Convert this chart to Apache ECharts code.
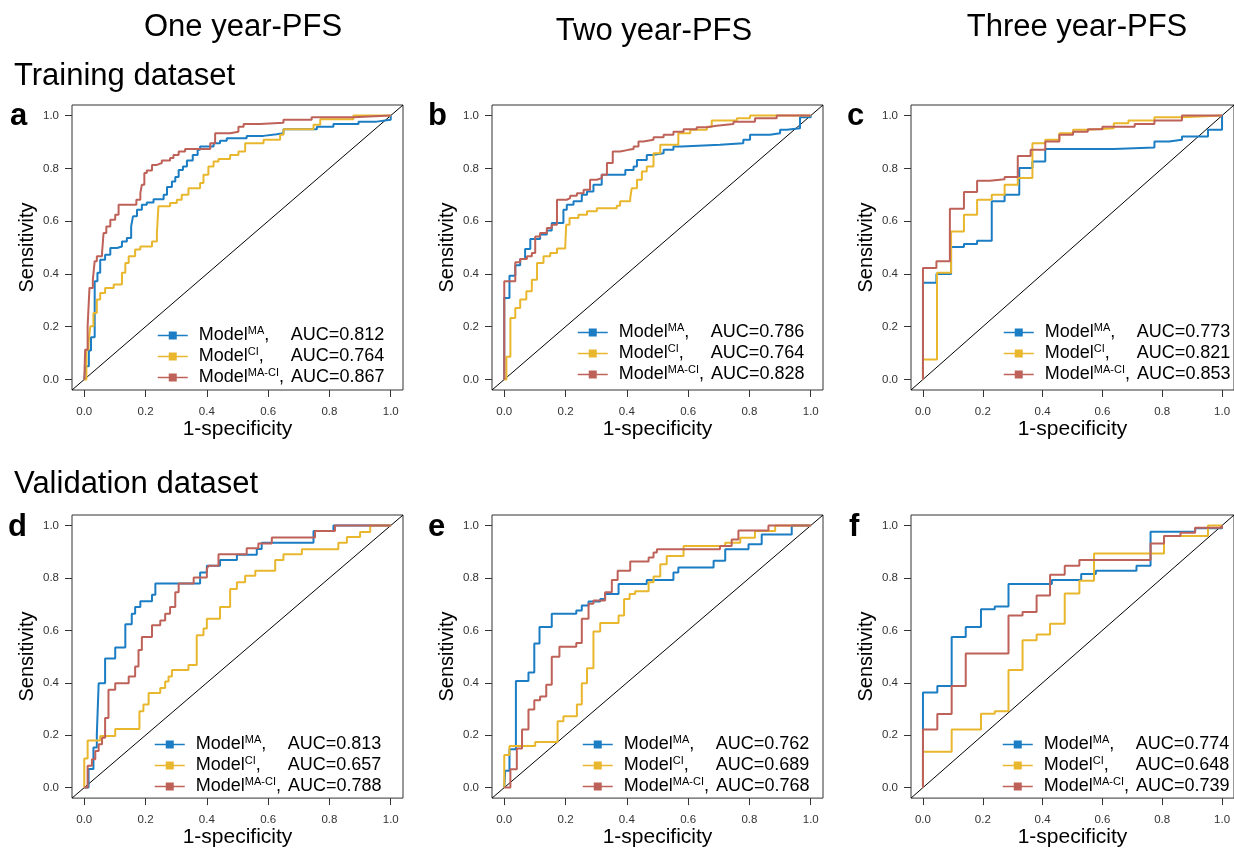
<!DOCTYPE html>
<html>
<head>
<meta charset="utf-8">
<script src="https://cdn.jsdelivr.net/npm/echarts@6/dist/echarts.min.js"></script>
<style>
html, body { margin: 0; padding: 0; background: #fff; }
#chart { width: 1234px; height: 849px; }
</style>
</head>
<body>
<div id="chart"></div>
<script>
// labels
var colTitles = ['One year-PFS', 'Two year-PFS', 'Three year-PFS'];
var rowTitles = ['Training dataset', 'Validation dataset'];
var panelLetters = ['a', 'b', 'c', 'd', 'e', 'f'];
var modelNames = ['MA', 'CI', 'MA-CI'];
var tickValues = [0, 0.2, 0.4, 0.6, 0.8, 1.0];

// AUC per panel, order MA, CI, MA-CI
var aucA = [0.812, 0.764, 0.867];
var aucB = [0.786, 0.764, 0.828];
var aucC = [0.773, 0.821, 0.853];
var aucD = [0.813, 0.657, 0.788];
var aucE = [0.762, 0.689, 0.768];
var aucF = [0.774, 0.648, 0.739];

// ROC points [1-specificity, sensitivity] (top of each rise)
var rocA_MA = [[0,0],[0.005,0.05],[0.015,0.11],[0.022,0.16],[0.034,0.372],[0.043,0.404],[0.052,0.454],[0.068,0.473],[0.085,0.498],[0.107,0.504],[0.123,0.523],[0.139,0.536],[0.153,0.580],[0.159,0.618],[0.172,0.643],[0.188,0.662],[0.204,0.671],[0.226,0.683],[0.259,0.700],[0.270,0.729],[0.286,0.750],[0.297,0.767],[0.308,0.794],[0.322,0.807],[0.335,0.830],[0.354,0.851],[0.370,0.870],[0.378,0.883],[0.422,0.895],[0.443,0.905],[0.465,0.914],[0.530,0.923],[0.585,0.929],[0.628,0.933],[0.650,0.948],[0.759,0.958],[0.813,0.968],[0.895,0.977],[0.954,0.984],[1,1]];
var rocA_CI = [[0,0],[0.007,0.113],[0.014,0.139],[0.020,0.202],[0.030,0.252],[0.041,0.303],[0.052,0.328],[0.068,0.347],[0.096,0.360],[0.123,0.404],[0.134,0.441],[0.145,0.467],[0.166,0.492],[0.183,0.504],[0.221,0.523],[0.237,0.555],[0.242,0.656],[0.280,0.669],[0.302,0.681],[0.318,0.700],[0.340,0.725],[0.378,0.744],[0.389,0.776],[0.405,0.807],[0.422,0.826],[0.438,0.835],[0.476,0.851],[0.503,0.864],[0.525,0.895],[0.585,0.908],[0.639,0.927],[0.650,0.948],[0.748,0.965],[0.770,0.986],[0.878,1.0],[1,1]];
var rocA_MACI = [[0,0],[0.003,0.113],[0.011,0.202],[0.017,0.347],[0.028,0.378],[0.034,0.448],[0.041,0.467],[0.058,0.479],[0.063,0.555],[0.072,0.580],[0.085,0.605],[0.101,0.624],[0.112,0.662],[0.170,0.681],[0.183,0.706],[0.188,0.738],[0.196,0.782],[0.204,0.792],[0.221,0.813],[0.237,0.820],[0.253,0.830],[0.280,0.839],[0.291,0.851],[0.308,0.864],[0.329,0.873],[0.411,0.895],[0.427,0.933],[0.476,0.939],[0.503,0.958],[0.520,0.968],[0.574,0.973],[0.650,0.984],[0.742,0.994],[0.878,1.0],[1,1]];

var rocB_MA = [[0,0],[0,0.309],[0.017,0.393],[0.036,0.433],[0.052,0.456],[0.068,0.494],[0.085,0.532],[0.117,0.549],[0.139,0.564],[0.155,0.593],[0.193,0.643],[0.204,0.662],[0.226,0.675],[0.253,0.700],[0.270,0.712],[0.291,0.738],[0.318,0.776],[0.395,0.794],[0.422,0.807],[0.433,0.832],[0.465,0.851],[0.487,0.857],[0.520,0.870],[0.552,0.883],[0.579,0.889],[0.704,0.895],[0.780,0.908],[0.802,0.927],[0.867,0.933],[0.900,0.946],[0.922,0.952],[0.965,0.994],[1,1]];
var rocB_CI = [[0,0],[0.007,0.086],[0.020,0.233],[0.036,0.271],[0.052,0.303],[0.072,0.334],[0.090,0.378],[0.107,0.441],[0.128,0.467],[0.150,0.479],[0.172,0.496],[0.199,0.504],[0.202,0.586],[0.213,0.612],[0.242,0.624],[0.270,0.637],[0.302,0.649],[0.367,0.658],[0.378,0.675],[0.411,0.687],[0.416,0.725],[0.433,0.757],[0.449,0.788],[0.465,0.807],[0.487,0.857],[0.509,0.889],[0.568,0.933],[0.607,0.946],[0.661,0.958],[0.677,0.981],[0.759,0.990],[0.802,1.0],[1,1]];
var rocB_MACI = [[0,0],[0,0.372],[0.036,0.444],[0.052,0.456],[0.074,0.467],[0.090,0.479],[0.101,0.542],[0.117,0.555],[0.139,0.574],[0.155,0.586],[0.172,0.681],[0.204,0.687],[0.215,0.696],[0.237,0.706],[0.259,0.719],[0.280,0.757],[0.302,0.763],[0.318,0.776],[0.335,0.820],[0.354,0.864],[0.378,0.870],[0.405,0.873],[0.422,0.883],[0.438,0.902],[0.454,0.908],[0.487,0.918],[0.520,0.927],[0.552,0.939],[0.585,0.948],[0.628,0.956],[0.661,0.961],[0.693,0.968],[0.748,0.977],[0.818,0.990],[0.889,1.0],[1,1]];

var rocC_MA = [[0,0],[0,0.366],[0.045,0.400],[0.094,0.502],[0.137,0.513],[0.181,0.526],[0.230,0.675],[0.273,0.700],[0.322,0.801],[0.366,0.826],[0.409,0.873],[0.638,0.879],[0.774,0.902],[0.823,0.908],[0.866,0.921],[0.953,0.946],[1,1]];
var rocC_CI = [[0,0],[0,0.076],[0.047,0.404],[0.094,0.561],[0.137,0.624],[0.181,0.681],[0.230,0.700],[0.273,0.738],[0.317,0.763],[0.366,0.895],[0.409,0.908],[0.456,0.933],[0.502,0.946],[0.551,0.952],[0.638,0.971],[0.687,0.981],[0.774,0.994],[0.866,1.0],[1,1]];
var rocC_MACI = [[0,0],[0,0.422],[0.045,0.448],[0.090,0.647],[0.137,0.710],[0.181,0.753],[0.224,0.759],[0.273,0.767],[0.317,0.847],[0.360,0.870],[0.409,0.902],[0.456,0.927],[0.502,0.939],[0.551,0.948],[0.600,0.958],[0.708,0.968],[0.774,0.981],[0.866,1.0],[1,1]];

var rocD_MA = [[0,0],[0.014,0.071],[0.030,0.153],[0.041,0.203],[0.047,0.398],[0.068,0.493],[0.101,0.535],[0.134,0.623],[0.155,0.663],[0.166,0.689],[0.183,0.711],[0.221,0.736],[0.232,0.779],[0.378,0.821],[0.400,0.846],[0.443,0.868],[0.498,0.888],[0.563,0.910],[0.579,0.934],[0.748,0.979],[0.813,1.0],[1,1]];
var rocD_CI = [[0,0],[0,0.111],[0.011,0.180],[0.052,0.197],[0.101,0.224],[0.180,0.291],[0.193,0.317],[0.210,0.361],[0.248,0.380],[0.264,0.405],[0.275,0.424],[0.286,0.449],[0.340,0.468],[0.367,0.581],[0.389,0.607],[0.400,0.644],[0.443,0.689],[0.476,0.758],[0.498,0.783],[0.525,0.808],[0.558,0.827],[0.623,0.868],[0.650,0.890],[0.710,0.909],[0.829,0.934],[0.857,0.956],[0.900,0.975],[0.933,1.0],[1,1]];
var rocD_MACI = [[0,0],[0.011,0.083],[0.025,0.108],[0.036,0.140],[0.047,0.165],[0.058,0.190],[0.068,0.266],[0.079,0.373],[0.101,0.398],[0.145,0.424],[0.166,0.462],[0.177,0.525],[0.188,0.575],[0.221,0.619],[0.248,0.638],[0.264,0.663],[0.280,0.689],[0.297,0.745],[0.308,0.779],[0.357,0.802],[0.400,0.834],[0.405,0.846],[0.438,0.890],[0.530,0.913],[0.568,0.931],[0.612,0.954],[0.753,0.979],[0.818,1.0],[1,1]];

var rocE_MA = [[0,0],[0.003,0.064],[0.017,0.146],[0.038,0.407],[0.079,0.439],[0.098,0.550],[0.115,0.613],[0.155,0.663],[0.235,0.676],[0.253,0.695],[0.275,0.710],[0.313,0.720],[0.329,0.739],[0.373,0.777],[0.465,0.792],[0.552,0.821],[0.568,0.840],[0.683,0.865],[0.721,0.909],[0.797,0.928],[0.840,0.966],[0.938,1.0],[1,1]];
var rocE_CI = [[0,0],[0,0.124],[0.017,0.159],[0.101,0.174],[0.174,0.253],[0.193,0.272],[0.237,0.317],[0.253,0.398],[0.270,0.455],[0.291,0.596],[0.313,0.628],[0.373,0.657],[0.391,0.720],[0.409,0.739],[0.427,0.749],[0.471,0.783],[0.487,0.805],[0.509,0.852],[0.530,0.884],[0.585,0.922],[0.721,0.934],[0.770,0.953],[0.818,0.979],[0.884,1.0],[1,1]];
var rocE_MACI = [[0,0],[0.020,0.070],[0.041,0.149],[0.058,0.222],[0.079,0.298],[0.098,0.333],[0.117,0.348],[0.137,0.392],[0.155,0.499],[0.180,0.537],[0.235,0.552],[0.253,0.644],[0.275,0.701],[0.291,0.714],[0.329,0.745],[0.351,0.792],[0.370,0.827],[0.411,0.863],[0.471,0.878],[0.487,0.897],[0.498,0.909],[0.704,0.922],[0.742,0.947],[0.764,0.981],[0.862,1.0],[1,1]];

var rocF_MA = [[0,0],[0,0.363],[0.048,0.388],[0.096,0.575],[0.143,0.613],[0.194,0.680],[0.240,0.691],[0.286,0.777],[0.431,0.792],[0.529,0.815],[0.578,0.827],[0.714,0.846],[0.761,0.976],[0.910,0.989],[1,1]];
var rocF_CI = [[0,0],[0,0.137],[0.096,0.222],[0.194,0.282],[0.240,0.291],[0.286,0.449],[0.333,0.562],[0.380,0.584],[0.425,0.625],[0.474,0.741],[0.523,0.789],[0.572,0.893],[0.806,0.960],[0.953,1.0],[1,1]];
var rocF_MACI = [[0,0],[0,0.222],[0.048,0.281],[0.096,0.388],[0.143,0.512],[0.286,0.657],[0.333,0.670],[0.380,0.733],[0.425,0.812],[0.474,0.846],[0.523,0.868],[0.761,0.931],[0.806,0.960],[0.861,0.972],[0.910,0.991],[1,1]];

var rocs = [
    [rocA_MA, rocA_CI, rocA_MACI],
    [rocB_MA, rocB_CI, rocB_MACI],
    [rocC_MA, rocC_CI, rocC_MACI],
    [rocD_MA, rocD_CI, rocD_MACI],
    [rocE_MA, rocE_CI, rocE_MACI],
    [rocF_MA, rocF_CI, rocF_MACI]
];
var aucs = [aucA, aucB, aucC, aucD, aucE, aucF];

// layout / style
var FONT = '"Liberation Sans", Arial, Helvetica, sans-serif';
var colors = ['#1B7DC3', '#E9B72E', '#BE6259'];
var axisLim = [-0.04, 1.04];
var gridLeft = [72, 492, 911];
var gridTop = [105, 515];
var legendPos = [[157, 325], [577, 322], [1003, 322], [154, 734], [582, 734], [1002, 734]];
var gapWidth = [21.5, 27, 7];

var mychart = echarts.init(document.getElementById('chart'));

var grids = [], xAxes = [], yAxes = [], series = [], legends = [];

function tickFmt(v) {
    return v.toFixed(1);
}

function legendFmt(name) {
    var parts = name.split(' ');
    var p = panelLetters.indexOf(parts[0]);
    var k = modelNames.indexOf(parts[1]);
    return '{m0|Model}{s|' + modelNames[k] + '}{m|,}{g' + k + '| }{m|AUC=' + aucs[p][k].toFixed(3) + '}';
}

var rich = {
    m0: {fontSize: 18, lineHeight: 21, fontFamily: FONT, color: '#000', padding: [0, 0, 0, 6]},
    m: {fontSize: 18, lineHeight: 21, fontFamily: FONT, color: '#000'},
    s: {fontSize: 11, lineHeight: 14, fontFamily: FONT, color: '#000', verticalAlign: 'top'}
};
gapWidth.forEach(function (w, k) {
    rich['g' + k] = {fontSize: 18, lineHeight: 21, width: w, fontFamily: FONT};
});

for (var p = 0; p < 6; p++) {
    var col = p % 3;
    var row = Math.floor(p / 3);
    grids.push({
        left: gridLeft[col], top: gridTop[row], width: 331, height: 285,
        show: true, borderColor: '#333', borderWidth: 1, backgroundColor: 'transparent'
    });
    xAxes.push({
        gridIndex: p, type: 'value', min: axisLim[0], max: axisLim[1],
        axisLine: {show: false, onZero: false}, splitLine: {show: false},
        axisTick: {show: true, length: 7, customValues: tickValues, lineStyle: {color: '#333'}},
        axisLabel: {customValues: tickValues, formatter: tickFmt, margin: 16, fontSize: 11.5, color: '#333', fontFamily: FONT},
        name: '1-specificity', nameLocation: 'middle', nameGap: 27,
        nameTextStyle: {fontSize: 21, color: '#000', fontFamily: FONT}
    });
    yAxes.push({
        gridIndex: p, type: 'value', min: axisLim[0], max: axisLim[1],
        axisLine: {show: false, onZero: false}, splitLine: {show: false},
        axisTick: {show: true, length: 7, customValues: tickValues, lineStyle: {color: '#333'}},
        axisLabel: {customValues: tickValues, formatter: tickFmt, margin: 13, fontSize: 11.5, color: '#333', fontFamily: FONT},
        name: 'Sensitivity', nameLocation: 'middle', nameGap: 35, nameRotate: 90,
        nameTextStyle: {fontSize: 20, color: '#000', fontFamily: FONT}
    });
    // chance line
    series.push({
        type: 'line', xAxisIndex: p, yAxisIndex: p, silent: true,
        data: axisLim.map(function (v) { return [v, v]; }),
        showSymbol: false, symbol: 'none',
        lineStyle: {color: '#000', width: 1}, z: 1
    });
    var names = [];
    for (var k = 0; k < 3; k++) {
        var nm = panelLetters[p] + ' ' + modelNames[k];
        names.push(nm);
        series.push({
            name: nm, type: 'line', xAxisIndex: p, yAxisIndex: p,
            step: 'end', data: rocs[p][k],
            symbol: 'rect', showSymbol: false,
            itemStyle: {color: colors[k]},
            lineStyle: {color: colors[k], width: 2}, z: 2 + k
        });
    }
    legends.push({
        data: names, orient: 'vertical',
        left: legendPos[p][0], top: legendPos[p][1],
        itemWidth: 30, itemHeight: 10, itemGap: 1.5, padding: 0,
        selectedMode: false,
        lineStyle: {width: 1.5},
        formatter: legendFmt,
        textStyle: {rich: rich}
    });
}

// titles and panel letters
var graphics = [];
var colX = [243, 654, 1077];
var colY = [27.5, 31.7, 27.5];
colTitles.forEach(function (t, i) {
    graphics.push({type: 'text', style: {text: t, x: colX[i], y: colY[i], font: '31px ' + FONT, fill: '#000',
        align: 'center', verticalAlign: 'middle', textAlign: 'center', textVerticalAlign: 'middle'}});
});
var rowY = [76, 484.7];
rowTitles.forEach(function (t, i) {
    graphics.push({type: 'text', style: {text: t, x: 14, y: rowY[i], font: '31px ' + FONT, fill: '#000',
        align: 'left', verticalAlign: 'middle', textAlign: 'left', textVerticalAlign: 'middle'}});
});
var letterPos = [[10, 116], [428, 116], [847, 116], [8, 527], [428, 527], [849, 527]];
panelLetters.forEach(function (t, i) {
    graphics.push({type: 'text', style: {text: t, x: letterPos[i][0], y: letterPos[i][1], font: 'bold 31px ' + FONT, fill: '#000',
        align: 'left', verticalAlign: 'middle', textAlign: 'left', textVerticalAlign: 'middle'}});
});

var option = {
    animation: false,
    backgroundColor: '#fff',
    grid: grids,
    xAxis: xAxes,
    yAxis: yAxes,
    legend: legends,
    series: series,
    graphic: graphics
};
mychart.setOption(option);
</script>
</body>
</html>
